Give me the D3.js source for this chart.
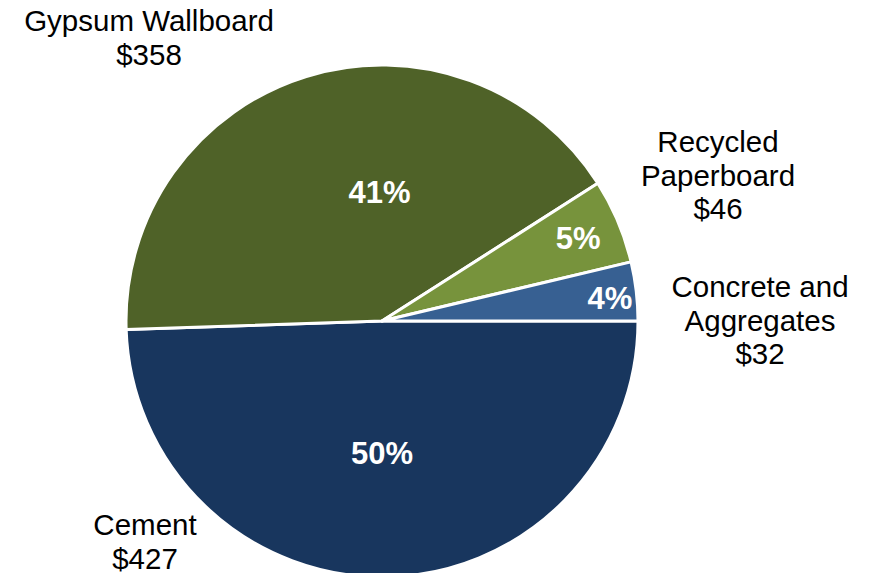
<!DOCTYPE html>
<html>
<head>
<meta charset="utf-8">
<script src="https://cdn.jsdelivr.net/npm/d3@7"></script>
<style>
  html, body { margin: 0; padding: 0; background: #ffffff; }
  svg { display: block; font-family: "Liberation Sans", Arial, sans-serif; }
</style>
</head>
<body>
<svg id="chart" width="871" height="573"></svg>
<script>
// Shipments by segment (in $ millions)
const categories = ["Cement", "Gypsum Wallboard", "Recycled Paperboard", "Concrete and Aggregates"];
const values = [427, 358, 46, 32];
// Share of total as published (rounded from unrounded figures)
const shares = [50, 41, 5, 4];
const nameLines = [["Cement"], ["Gypsum Wallboard"], ["Recycled", "Paperboard"], ["Concrete and", "Aggregates"]];
const colors = ["#18365e", "#4f6228", "#77933c", "#376092"];

const width = 871, height = 573;
const cx = 382, cy = 321, radius = 256;

// Where each slice's percentage sits: [radius, angle offset in degrees from bisector]
const pctPlacement = [[132, 0.9], [129, 16.1], [213, 0], [229, 0.9]];
// Outer category label anchors (first baseline), relative to the pie centre
const outerOffset = [[-237, 214], [-233, -290], [336, -169], [378, -24]];

const svg = d3.select("#chart");
const g = svg.append("g").attr("transform", `translate(${cx},${cy})`);

const data = categories.map((c, i) => ({ name: c, value: values[i], share: shares[i], i }));

const pie = d3.pie()
  .value(d => d.value)
  .sort(null)
  .startAngle(Math.PI / 2)
  .endAngle(Math.PI / 2 + 2 * Math.PI);

const arcs = pie(data);
const arc = d3.arc().innerRadius(0).outerRadius(radius);

g.selectAll("path.slice")
  .data(arcs)
  .join("path")
  .attr("class", "slice")
  .attr("d", arc)
  .attr("fill", d => colors[d.data.i])
  .attr("stroke", "#ffffff")
  .attr("stroke-width", 3)
  .attr("stroke-linejoin", "round");

// Percentage labels inside slices
g.selectAll("text.pct")
  .data(arcs)
  .join("text")
  .attr("class", "pct")
  .attr("text-anchor", "middle")
  .attr("fill", "#ffffff")
  .attr("font-weight", "bold")
  .attr("font-size", 31)
  .attr("transform", d => {
    const [r, off] = pctPlacement[d.data.i];
    const a = (d.startAngle + d.endAngle) / 2 + off * Math.PI / 180;
    const x = Math.sin(a) * r, y = -Math.cos(a) * r;
    return `translate(${x},${y})`;
  })
  .attr("dy", "0.35em")
  .text(d => d.data.share + "%");

// Category name and dollar value outside the pie
const outer = g.selectAll("text.name")
  .data(arcs)
  .join("text")
  .attr("class", "name")
  .attr("text-anchor", "middle")
  .attr("fill", "#000000")
  .attr("font-size", 29.5)
  .attr("transform", d => `translate(${outerOffset[d.data.i][0]},${outerOffset[d.data.i][1]})`);

outer.each(function(d) {
  const t = d3.select(this);
  const lines = nameLines[d.data.i].concat(["$" + d.value]);
  lines.forEach((ln, k) => {
    t.append("tspan").attr("x", 0).attr("y", k * 33.5).text(ln);
  });
});
</script>
</body>
</html>
